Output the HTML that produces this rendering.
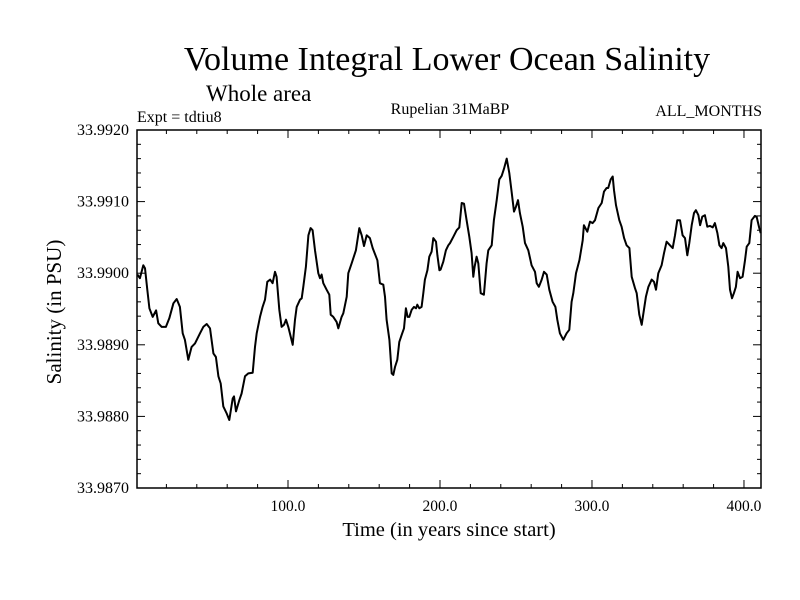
<!DOCTYPE html>
<html><head><meta charset="utf-8"><style>
html,body{margin:0;padding:0;background:#fff;}
svg{display:block;font-family:"Liberation Serif",serif;}
</style></head><body>
<svg id="chart" width="800" height="600" viewBox="0 0 800 600" xmlns="http://www.w3.org/2000/svg">
<rect width="800" height="600" fill="#fff"/>
<text x="447" y="70" font-size="34" text-anchor="middle">Volume Integral Lower Ocean Salinity</text>
<text x="206" y="101" font-size="23">Whole area</text>
<text x="137" y="122" font-size="16">Expt = tdtiu8</text>
<text x="450" y="114" font-size="16" text-anchor="middle">Rupelian  31MaBP</text>
<text x="762" y="116" font-size="16" text-anchor="end">ALL_MONTHS</text>
<text x="449" y="536" font-size="20.5" text-anchor="middle">Time (in years since start)</text>
<text transform="translate(61,312) rotate(-90)" font-size="21" text-anchor="middle">Salinity (in PSU)</text>
<g id="axes"></g>
<rect x="137" y="130" width="624" height="358" fill="none" stroke="#000" stroke-width="1.5"/>
<path id="line" fill="none" stroke="#000" stroke-width="2" stroke-linejoin="round"/>
</svg>
<script>
const years = [0.9,2.6,4.8,5.9,7.45,8.8,11.0,13.2,14.7,16.9,19.7,21.9,24.6,26.75,28.9,30.7,32.2,34.4,36.6,38.8,42.1,44.3,46.5,48.7,50.9,52.6,54.2,55.7,57.45,59.65,61.4,63.6,64.5,65.8,68.0,69.5,71.7,73.9,76.75,78.3,79.4,81.6,83.3,84.9,86.4,88.2,89.9,91.45,92.5,94.3,95.8,97.4,98.7,100.2,103.1,104.6,105.7,107.9,109.0,110.1,111.8,113.4,114.9,116.2,117.8,119.95,121.05,122.1,123.2,125.4,127.2,128.1,129.8,132.0,133.1,135.3,136.4,138.6,139.7,141.9,144.7,146.9,148.5,150.0,151.8,153.9,155.7,157.9,158.8,160.5,162.7,163.8,164.9,166.7,168.2,169.3,170.4,171.9,173.2,174.8,176.3,177.6,178.7,179.8,181.4,182.9,184.2,185.1,186.4,187.9,189.0,190.1,191.7,193.0,194.5,195.6,197.4,198.3,199.6,200.4,202.2,203.9,205.5,206.6,208.8,211.0,212.7,214.3,215.8,217.5,219.3,220.8,221.9,222.8,224.1,225.2,226.8,228.9,230.7,231.8,234.0,235.5,237.3,239.0,240.6,242.1,243.9,245.6,247.1,248.7,250.0,251.3,252.6,254.4,255.9,258.1,260.3,262.5,263.6,265.1,266.9,268.4,270.2,271.9,274.1,275.9,277.2,278.9,281.1,283.3,285.1,286.6,287.7,289.5,291.7,293.9,294.7,296.9,298.7,300.4,302.0,304.2,306.4,307.9,309.6,310.7,312.3,313.6,314.5,315.8,318.0,319.5,321.1,322.8,324.6,326.1,328.3,329.4,331.1,332.7,333.8,335.5,337.1,339.3,340.8,342.1,343.6,345.8,347.4,349.1,351.3,353.1,354.6,356.1,357.9,359.6,361.2,362.7,364.0,365.6,367.1,368.4,370.0,371.1,372.6,374.3,375.9,377.6,379.4,380.9,382.5,383.8,385.3,386.4,388.2,389.7,390.8,392.1,393.4,394.7,395.8,397.4,399.1,400.7,401.8,403.5,405.0,407.2,408.3,410.1,411.0];
const salinity = [33.98998,33.98993,33.99011,33.99007,33.98977,33.98951,33.98939,33.98948,33.98930,33.98925,33.98925,33.98937,33.98958,33.98964,33.98953,33.98916,33.98907,33.98879,33.98897,33.98902,33.98916,33.98925,33.98929,33.98923,33.98888,33.98883,33.98856,33.98846,33.98814,33.98804,33.98795,33.98825,33.98828,33.98807,33.98823,33.98832,33.98856,33.98860,33.98861,33.98897,33.98916,33.98939,33.98953,33.98963,33.98988,33.98991,33.98986,33.99002,33.98995,33.98949,33.98925,33.98928,33.98935,33.98925,33.98900,33.98935,33.98953,33.98963,33.98965,33.98981,33.99009,33.99053,33.99063,33.99060,33.99032,33.99000,33.98993,33.98998,33.98986,33.98977,33.98970,33.98942,33.98939,33.98932,33.98923,33.98939,33.98944,33.98967,33.99000,33.99014,33.99032,33.99063,33.99053,33.99038,33.99053,33.99049,33.99035,33.99023,33.99018,33.98986,33.98984,33.98967,33.98935,33.98907,33.98860,33.98858,33.98869,33.98879,33.98904,33.98914,33.98923,33.98951,33.98939,33.98939,33.98949,33.98953,33.98951,33.98956,33.98951,33.98953,33.98972,33.98991,33.99004,33.99023,33.99030,33.99049,33.99044,33.99025,33.99004,33.99005,33.99016,33.99032,33.99039,33.99042,33.99051,33.99060,33.99064,33.99098,33.99097,33.99074,33.99051,33.99028,33.98995,33.99009,33.99023,33.99014,33.98972,33.98970,33.99014,33.99032,33.99039,33.99074,33.99102,33.99131,33.99136,33.99146,33.99160,33.99140,33.99114,33.99086,33.99093,33.99102,33.99084,33.99065,33.99042,33.99032,33.99011,33.99002,33.98986,33.98981,33.98991,33.99002,33.98998,33.98977,33.98960,33.98953,33.98935,33.98916,33.98907,33.98916,33.98921,33.98960,33.98972,33.99000,33.99018,33.99046,33.99067,33.99058,33.99072,33.99070,33.99074,33.99091,33.99098,33.99114,33.99119,33.99119,33.99131,33.99135,33.99116,33.99095,33.99074,33.99065,33.99049,33.99039,33.99035,33.98995,33.98979,33.98972,33.98942,33.98928,33.98944,33.98967,33.98981,33.98991,33.98988,33.98977,33.99000,33.99011,33.99028,33.99044,33.99039,33.99035,33.99053,33.99074,33.99074,33.99053,33.99049,33.99025,33.99042,33.99067,33.99084,33.99088,33.99081,33.99067,33.99079,33.99081,33.99065,33.99066,33.99064,33.99070,33.99056,33.99039,33.99035,33.99042,33.99035,33.99009,33.98977,33.98965,33.98972,33.98981,33.99002,33.98993,33.98995,33.99018,33.99037,33.99042,33.99074,33.99080,33.99079,33.99063,33.99056];
const xTickLabels = ["100.0","200.0","300.0","400.0"];
const xTickValues = [100,200,300,400];
const yTickLabels = ["33.9870","33.9880","33.9890","33.9900","33.9910","33.9920"];
const yTickValues = [33.987,33.988,33.989,33.990,33.991,33.992];

const L=137,R=761,T=130,B=488;
const xMin=0.66,xMax=411.2,yMin=33.987,yMax=33.992;
function sx(v){return L+(v-xMin)/(xMax-xMin)*(R-L);}
function sy(v){return B-(v-yMin)/(yMax-yMin)*(B-T);}
const NS="http://www.w3.org/2000/svg";
const axes=document.getElementById('axes');
function ln(x1,y1,x2,y2,name){
  const l=document.createElementNS(NS,'line');
  l.setAttribute('x1',x1);l.setAttribute('y1',y1);l.setAttribute('x2',x2);l.setAttribute('y2',y2);
  l.setAttribute('stroke','#000');l.setAttribute('stroke-width','1');
  
  
  axes.appendChild(l);
}
function txt(x,y,s,anchor,name,size){
  const t=document.createElementNS(NS,'text');
  t.setAttribute('x',x);t.setAttribute('y',y);t.setAttribute('font-size',size);t.setAttribute('text-anchor',anchor);
  t.textContent=s;
  
  
  axes.appendChild(t);
}
for(let v=20;v<=400;v+=20){
  const x=sx(v), major=(v%100===0), len=major?8:4;
  ln(x,B,x,B-len,'x-tick');ln(x,T,x,T+len,'x-tick-top');
}
xTickValues.forEach((v,i)=>txt(sx(v),511,xTickLabels[i],'middle','x-tick-label','15.5'));
for(let k=0;k<=25;k++){
  const v=yMin+k*0.0002, y=sy(v), major=(k%5===0), len=major?8:4;
  ln(L,y,L+len,y,'y-tick');ln(R,y,R-len,y,'y-tick-right');
}
yTickValues.forEach((v,i)=>txt(129,sy(v)+5,yTickLabels[i],'end','y-tick-label','16'));
let d='';
years.forEach((t,i)=>{d+=(i?'L':'M')+sx(t).toFixed(1)+' '+sy(salinity[i]).toFixed(1);});
document.getElementById('line').setAttribute('d',d);
</script>
</body></html>
